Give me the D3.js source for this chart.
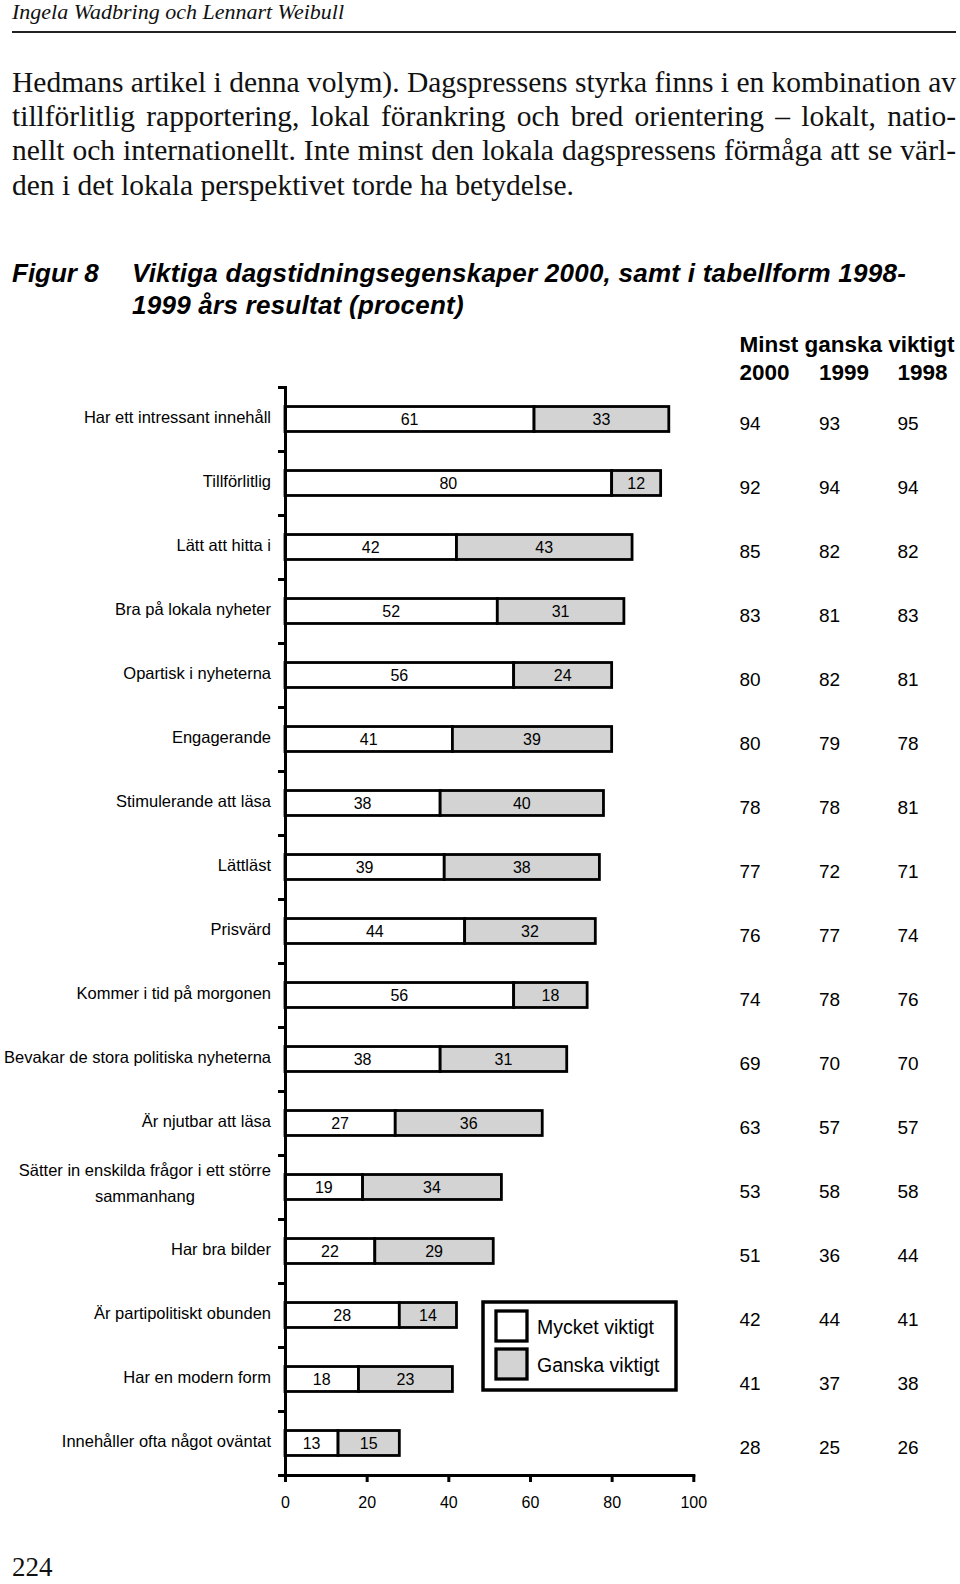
<!DOCTYPE html>
<html><head><meta charset="utf-8">
<script src="https://cdn.jsdelivr.net/npm/d3@7"></script>
<style>body{margin:0;background:#fff}svg{display:block}</style>
</head><body>
<script>
// ---------- data ----------
const categories = [
  "Har ett intressant innehåll",
  "Tillförlitlig",
  "Lätt att hitta i",
  "Bra på lokala nyheter",
  "Opartisk i nyheterna",
  "Engagerande",
  "Stimulerande att läsa",
  "Lättläst",
  "Prisvärd",
  "Kommer i tid på morgonen",
  "Bevakar de stora politiska nyheterna",
  "Är njutbar att läsa",
  "Sätter in enskilda frågor i ett större\nsammanhang",
  "Har bra bilder",
  "Är partipolitiskt obunden",
  "Har en modern form",
  "Innehåller ofta något oväntat"
];
const mycketViktigt = [61, 80, 42, 52, 56, 41, 38, 39, 44, 56, 38, 27, 19, 22, 28, 18, 13];
const ganskaViktigt = [33, 12, 43, 31, 24, 39, 40, 38, 32, 18, 31, 36, 34, 29, 14, 23, 15];
const minst2000 = [94, 92, 85, 83, 80, 80, 78, 77, 76, 74, 69, 63, 53, 51, 42, 41, 28];
const minst1999 = [93, 94, 82, 81, 82, 79, 78, 72, 77, 78, 70, 57, 58, 36, 44, 37, 25];
const minst1998 = [95, 94, 82, 83, 81, 78, 81, 71, 74, 76, 70, 57, 58, 44, 41, 38, 26];
const tableYears = ["2000", "1999", "1998"];
const tableHeader = "Minst ganska viktigt";
const xTicks = [0, 20, 40, 60, 80, 100];
const seriesNames = ["Mycket viktigt", "Ganska viktigt"];
const seriesColors = ["#ffffff", "#d3d3d3"];

const runningHead = "Ingela Wadbring och Lennart Weibull";
const bodyLines = [
  "Hedmans artikel i denna volym). Dagspressens styrka finns i en kombination av",
  "tillförlitlig rapportering, lokal förankring och bred orientering – lokalt, natio-",
  "nellt och internationellt. Inte minst den lokala dagspressens förmåga att se värl-",
  "den i det lokala perspektivet torde ha betydelse."
];
const figLabel = "Figur 8";
const titleLines = ["Viktiga dagstidningsegenskaper 2000, samt i tabellform 1998-", "1999 års resultat (procent)"];
const pageNumber = "224";

// ---------- setup ----------
const SANS = "'Liberation Sans', Arial, Helvetica, sans-serif";
const SERIF = "'Liberation Serif', 'Times New Roman', serif";
const svg = d3.select("body").append("svg").attr("width", 960).attr("height", 1584);

// running head + rule
svg.append("text").attr("x", 12).attr("y", 18.5)
  .attr("font-family", SERIF).attr("font-style", "italic").attr("font-size", 22)
  .attr("fill", "#111").text(runningHead);
svg.append("line").attr("x1", 12).attr("x2", 956).attr("y1", 32).attr("y2", 32)
  .attr("stroke", "#222").attr("stroke-width", 2);

// body text (justified)
const bodyBase = [91.5, 125.5, 160, 194.5];
bodyLines.forEach((ln, i) => {
  const t = svg.append("text").attr("x", 12).attr("y", bodyBase[i])
    .attr("font-family", SERIF).attr("font-size", 29.5).attr("fill", "#111")
    .style("white-space", "pre").text(ln);
  if (i < bodyLines.length - 1) {
    const w = t.node().getComputedTextLength();
    const n = (ln.match(/ /g) || []).length;
    t.style("word-spacing", ((944 - w) / n) + "px");
  }
});

// title
svg.append("text").attr("x", 12).attr("y", 282)
  .attr("font-family", SANS).attr("font-weight", "bold").attr("font-style", "italic")
  .attr("font-size", 26).attr("fill", "#000").text(figLabel);
titleLines.forEach((ln, i) => {
  svg.append("text").attr("x", 132).attr("y", 282 + i * 31.5)
    .attr("font-family", SANS).attr("font-weight", "bold").attr("font-style", "italic")
    .attr("font-size", 26).attr("letter-spacing", 0.25).attr("fill", "#000").text(ln);
});

// ---------- chart ----------
const x = d3.scaleLinear().domain([0, 100]).range([285, 693.3]);
const y = d3.scaleBand().domain(d3.range(categories.length)).range([387, 1475])
  .paddingInner(0.61).paddingOuter(0.305);
const yb = d3.scaleLinear().domain([0, categories.length]).range([387, 1475]);

const rows = categories.map((c, i) => ({ i, m: mycketViktigt[i], g: ganskaViktigt[i] }));
const stack = d3.stack().keys(["m", "g"])(rows);

const barG = svg.append("g");
stack.forEach((layer, k) => {
  const g = barG.append("g");
  g.selectAll("rect").data(layer).join("rect")
    .attr("x", d => x(d[0])).attr("width", d => x(d[1]) - x(d[0]))
    .attr("y", d => y(d.data.i)).attr("height", y.bandwidth())
    .attr("fill", seriesColors[k]).attr("stroke", "#000").attr("stroke-width", 2.8);
  g.selectAll("text").data(layer).join("text")
    .attr("x", d => x((d[0] + d[1]) / 2)).attr("y", d => y(d.data.i) + y.bandwidth() / 2 + 6)
    .attr("text-anchor", "middle").attr("font-family", SANS).attr("font-size", 16)
    .attr("fill", "#000").text(d => d[1] - d[0]);
});

// y axis
const yAxis = svg.append("g").attr("transform", "translate(285,0)")
  .call(d3.axisLeft(yb).tickValues(d3.range(categories.length + 1)).tickSize(7).tickSizeOuter(0).tickFormat(""));
yAxis.select(".domain").attr("stroke-width", 3).attr("stroke-linecap", "square");
yAxis.selectAll(".tick line").attr("stroke-width", 3);

// x axis
const xAxis = svg.append("g").attr("transform", "translate(0,1475)")
  .call(d3.axisBottom(x).tickValues(xTicks).tickSize(7).tickSizeOuter(0).tickPadding(15));
xAxis.select(".domain").attr("stroke-width", 3).attr("stroke-linecap", "square");
xAxis.selectAll(".tick line").attr("stroke-width", 3);
xAxis.selectAll(".tick text").attr("font-family", SANS).attr("font-size", 16).attr("fill", "#000");

// category labels
const labG = svg.append("g").attr("font-family", SANS).attr("font-size", 16.5).attr("fill", "#000");
categories.forEach((c, i) => {
  const lines = c.split("\n");
  const cy = y(i) + y.bandwidth() / 2;
  if (lines.length === 1) {
    labG.append("text").attr("x", 271).attr("y", cy + 4).attr("text-anchor", "end").text(c);
  } else {
    const ts = lines.map((ln, j) => labG.append("text")
      .attr("y", cy - 11 + j * 26).attr("text-anchor", "middle").text(ln));
    const maxW = d3.max(ts, t => t.node().getComputedTextLength());
    ts.forEach(t => t.attr("x", 271 - maxW / 2));
  }
});

// table on right
const colX = [739.5, 819, 897.5];
svg.append("text").attr("x", colX[0]).attr("y", 352)
  .attr("font-family", SANS).attr("font-weight", "bold").attr("font-size", 22.5).text(tableHeader);
svg.append("g").selectAll("text").data(tableYears).join("text")
  .attr("x", (d, i) => colX[i]).attr("y", 379.5)
  .attr("font-family", SANS).attr("font-weight", "bold").attr("font-size", 22.5).text(d => d);
[minst2000, minst1999, minst1998].forEach((arr, k) => {
  svg.append("g").selectAll("text").data(arr).join("text")
    .attr("x", colX[k]).attr("y", (d, i) => y(i) + y.bandwidth() / 2 + 10.7)
    .attr("font-family", SANS).attr("font-size", 19).attr("fill", "#000").text(d => d);
});

// legend
const leg = svg.append("g");
leg.append("rect").attr("x", 483).attr("y", 1302).attr("width", 193).attr("height", 88)
  .attr("fill", "#fff").attr("stroke", "#000").attr("stroke-width", 3.5);
const li = leg.selectAll("g.item").data(seriesNames).join("g").attr("class", "item")
  .attr("transform", (d, i) => `translate(0,${i * 38})`);
li.append("rect").attr("x", 496).attr("y", 1311).attr("width", 31).attr("height", 30)
  .attr("fill", (d, i) => seriesColors[i]).attr("stroke", "#000").attr("stroke-width", 3.3);
li.append("text").attr("x", 537).attr("y", 1333.5)
  .attr("font-family", SANS).attr("font-size", 19.5).attr("fill", "#000").text(d => d);

// page number
svg.append("text").attr("x", 12).attr("y", 1576)
  .attr("font-family", SERIF).attr("font-size", 27).attr("fill", "#111").text(pageNumber);
</script>
</body></html>
